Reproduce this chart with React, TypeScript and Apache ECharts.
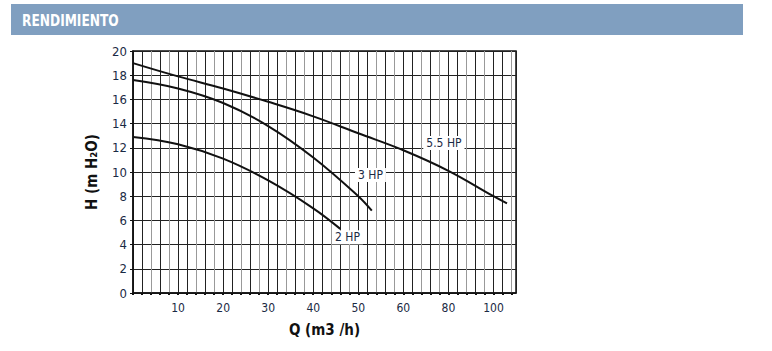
import React, { useEffect, useRef } from "react";
import * as echarts from "echarts";

// Flow Q (m3/h) and head H (m H2O)
const q55 = [0, 10, 20, 30, 40, 50, 60, 80, 100, 106];
const h55 = [19.0, 17.9, 16.9, 15.8, 14.6, 13.2, 11.8, 10.1, 8.0, 7.4];
const q3 = [0, 10, 20, 30, 40, 50, 53];
const h3 = [17.6, 16.9, 15.7, 13.8, 11.2, 8.0, 6.8];
const q2 = [0, 10, 20, 30, 40, 46];
const h2 = [12.9, 12.3, 11.1, 9.3, 7.0, 5.3];

const seriesNames = ["5.5 HP", "3 HP", "2 HP"];
// label anchor points (Q, H)
const labelQ = [78, 52.7, 47.6];
const labelH = [12.4, 9.75, 4.6];

const xTickLabels = ["10", "20", "30", "40", "50", "60", "80", "100"];
const yTicks = [0, 2, 4, 6, 8, 10, 12, 14, 16, 18, 20];

// the original axis is linear to 60, then compressed by half
const toP = (q: number) => (q <= 60 ? q : 60 + (q - 60) / 2);

const FONT = "'Liberation Sans Narrow', 'DejaVu Sans Condensed', 'Liberation Sans', Arial, sans-serif";

export default function App() {
  const ref = useRef<HTMLDivElement>(null);
  useEffect(() => {
    const chart = echarts.init(ref.current!, null, { renderer: "svg" });
    const mk = (qs: number[], hs: number[]) => qs.map((q, i) => [toP(q), hs[i]]);
    const curves = [mk(q55, h55), mk(q3, h3), mk(q2, h2)];
    chart.setOption({
      animation: false,
      backgroundColor: "#fff",
      graphic: [
        { type: "rect", shape: { x: 11, y: 4, width: 732, height: 31 }, style: { fill: "#809fc0" } },
        {
          type: "text",
          x: 22,
          y: 20,
          scaleX: 0.85,
          style: {
            text: "RENDIMIENTO",
            fill: "#fff",
            font: "bold 16px " + FONT,
            verticalAlign: "middle",
          },
        },
      ],
      grid: { left: 133, right: 256, top: 51, bottom: 58, show: true, borderColor: "#111", borderWidth: 1.5, backgroundColor: "transparent" },
      xAxis: {
        type: "value",
        min: 0,
        max: 85,
        interval: 2,
        name: "Q (m3 /h)",
        nameLocation: "middle",
        nameGap: 29,
        nameTextStyle: { fontFamily: FONT, fontWeight: "bold", fontSize: 15, color: "#111" },
        axisLine: { show: true, lineStyle: { color: "#111", width: 1.5 } },
        axisTick: { show: true, inside: false, length: 2, lineStyle: { color: "#111", width: 2 } },
        axisLabel: {
          fontFamily: FONT,
          fontSize: 12,
          color: "#1a2a44",
          margin: 9,
          showMaxLabel: false,
          formatter: (v: number) => {
            if (v > 0 && v % 10 === 0) {
              const idx = v / 10 - 1;
              return xTickLabels[idx] ?? "";
            }
            return "";
          },
        },
        splitLine: { show: true, lineStyle: { color: ["#222", "#222", "#999", "#222", "#999"], width: 1 } },
      },
      yAxis: {
        type: "value",
        min: 0,
        max: 20,
        interval: 2,
        name: "H (m H₂O)",
        nameLocation: "middle",
        nameRotate: 90,
        nameGap: 34,
        nameTextStyle: { fontFamily: FONT, fontWeight: "bold", fontSize: 15, color: "#111" },
        axisLine: { show: true, lineStyle: { color: "#111", width: 1.5 } },
        axisTick: { show: true, length: 3, lineStyle: { color: "#111" } },
        axisLabel: {
          fontFamily: FONT,
          fontSize: 13,
          color: "#1a2a44",
          margin: 6,
          formatter: (v: number) => (yTicks.includes(v) ? String(v) : ""),
        },
        splitLine: { show: true, lineStyle: { color: "#222", width: 1.2 } },
      },
      series: curves.map((data, i) => ({
        type: "line",
        name: seriesNames[i],
        data,
        smooth: 0.4,
        showSymbol: false,
        lineStyle: { color: "#111", width: 2 },
        z: 3,
        markPoint: {
          symbol: "rect",
          symbolSize: 0,
          data: [{ coord: [toP(labelQ[i]), labelH[i]] }],
          label: {
            show: true,
            position: "inside",
            formatter: seriesNames[i],
            fontFamily: FONT,
            fontSize: 12,
            color: "#1a2a44",
            backgroundColor: "#fff",
            padding: [1, 3],
          },
        },
      })),
    });
    return () => chart.dispose();
  }, []);
  return <div ref={ref} style={{ position: "absolute", left: 0, top: 0, width: 772, height: 351 }} />;
}
